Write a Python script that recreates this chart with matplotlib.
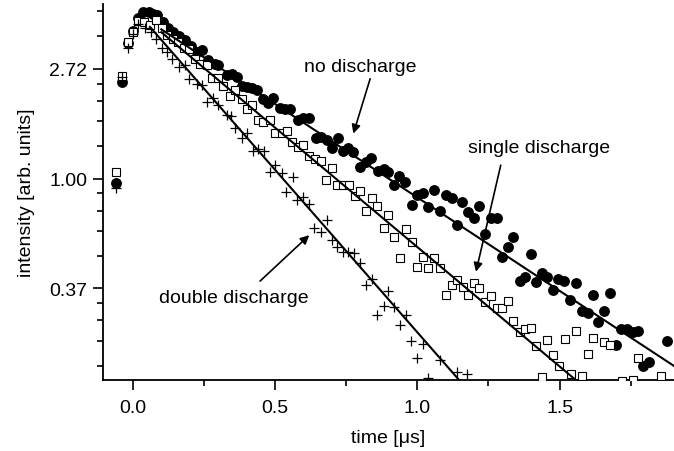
import numpy as np
import matplotlib
matplotlib.use("Agg")
import matplotlib.pyplot as plt
from matplotlib.ticker import FixedLocator, FixedFormatter, NullFormatter

plt.rcParams['font.family'] = ['Liberation Sans', 'DejaVu Sans']

# ---------------- data ----------------
t_none = [-0.059, -0.038, -0.017, 0.000, 0.019, 0.037, 0.055, 0.072, 0.086, 0.105,
          0.123, 0.140, 0.161, 0.183, 0.204, 0.225, 0.242, 0.265, 0.289, 0.300,
          0.330, 0.348, 0.365, 0.383, 0.400, 0.418, 0.435, 0.459, 0.476, 0.494,
          0.517, 0.535, 0.553, 0.582, 0.599, 0.620, 0.644, 0.662, 0.681, 0.699,
          0.720, 0.738, 0.757, 0.775, 0.799, 0.820, 0.836, 0.861, 0.881, 0.898,
          0.919, 0.937, 0.957, 0.980, 0.998, 1.021, 1.039, 1.059, 1.080, 1.100,
          1.121, 1.138, 1.158, 1.179, 1.199, 1.218, 1.238, 1.258, 1.279, 1.299,
          1.320, 1.337, 1.359, 1.379, 1.399, 1.417, 1.437, 1.457, 1.478, 1.496,
          1.517, 1.537, 1.558, 1.578, 1.598, 1.617, 1.636, 1.656, 1.677, 1.699,
          1.715, 1.736, 1.757, 1.777, 1.794, 1.815, 1.877]
I_none = [0.96, 2.41, 3.45, 3.84, 4.30, 4.55, 4.55, 4.48, 4.43, 4.15,
          3.93, 3.79, 3.65, 3.52, 3.35, 3.16, 3.21, 2.95, 2.84, 2.80,
          2.57, 2.60, 2.52, 2.32, 2.30, 2.27, 2.23, 2.07, 1.98, 2.08,
          1.90, 1.89, 1.88, 1.70, 1.73, 1.73, 1.44, 1.46, 1.42, 1.32,
          1.45, 1.28, 1.32, 1.27, 1.11, 1.16, 1.20, 1.07, 1.09, 1.06,
          0.94, 1.02, 0.97, 0.784, 0.859, 0.873, 0.773, 0.899, 0.743, 0.859,
          0.834, 0.654, 0.809, 0.735, 0.70, 0.78, 0.601, 0.70, 0.695, 0.488,
          0.537, 0.585, 0.393, 0.409, 0.503, 0.391, 0.425, 0.409, 0.362, 0.40,
          0.395, 0.331, 0.388, 0.299, 0.293, 0.346, 0.272, 0.299, 0.352, 0.220,
          0.254, 0.254, 0.247, 0.250, 0.181, 0.189, 0.227]

t_single = [-0.059, -0.038, -0.018, 0.002, 0.019, 0.039, 0.060, 0.082, 0.102, 0.119,
            0.140, 0.160, 0.178, 0.199, 0.219, 0.236, 0.260, 0.277, 0.300, 0.318,
            0.342, 0.359, 0.383, 0.400, 0.418, 0.441, 0.459, 0.482, 0.500, 0.523,
            0.541, 0.559, 0.582, 0.599, 0.620, 0.640, 0.660, 0.679, 0.699, 0.719,
            0.740, 0.760, 0.781, 0.799, 0.820, 0.840, 0.859, 0.881, 0.898, 0.919,
            0.939, 0.960, 0.980, 1.000, 1.019, 1.039, 1.059, 1.080, 1.100, 1.121,
            1.141, 1.160, 1.179, 1.199, 1.218, 1.238, 1.258, 1.279, 1.299, 1.320,
            1.337, 1.359, 1.379, 1.399, 1.417, 1.437, 1.457, 1.478, 1.499, 1.519,
            1.540, 1.558, 1.578, 1.598, 1.619, 1.657, 1.677, 1.718, 1.757, 1.777,
            1.857]
I_single = [1.06, 2.54, 3.48, 3.79, 4.18, 4.15, 4.05, 4.22, 3.94, 3.68,
            3.55, 3.46, 3.28, 3.26, 2.98, 2.84, 2.82, 2.50, 2.50, 2.32,
            2.12, 2.23, 2.07, 1.89, 1.95, 1.70, 1.68, 1.70, 1.51, 1.51,
            1.54, 1.39, 1.33, 1.36, 1.23, 1.19, 1.17, 0.99, 1.10, 0.947,
            0.941, 0.941, 0.854, 0.891, 0.743, 0.834, 0.78, 0.639, 0.716, 0.589,
            0.486, 0.63, 0.562, 0.448, 0.491, 0.444, 0.483, 0.441, 0.346, 0.379,
            0.397, 0.374, 0.346, 0.385, 0.368, 0.326, 0.344, 0.307, 0.307, 0.329,
            0.273, 0.247, 0.254, 0.257, 0.217, 0.164, 0.230, 0.201, 0.182, 0.232,
            0.168, 0.25, 0.166, 0.202, 0.235, 0.225, 0.22, 0.158, 0.16, 0.195,
            0.165]

t_double = [-0.059, -0.038, -0.016, 0.002, 0.019, 0.043, 0.062, 0.082, 0.102, 0.119,
            0.137, 0.163, 0.183, 0.199, 0.225, 0.242, 0.262, 0.283, 0.300, 0.330,
            0.344, 0.359, 0.383, 0.400, 0.424, 0.441, 0.461, 0.482, 0.500, 0.523,
            0.539, 0.562, 0.578, 0.599, 0.620, 0.638, 0.660, 0.681, 0.699, 0.719,
            0.740, 0.757, 0.778, 0.799, 0.820, 0.840, 0.859, 0.881, 0.898, 0.918,
            0.939, 0.960, 0.978, 0.998, 1.019, 1.039, 1.080, 1.141, 1.176]
I_double = [0.92, 2.53, 3.28, 3.74, 4.09, 3.93, 3.80, 3.55, 3.28, 3.16,
            2.98, 2.76, 2.80, 2.47, 2.37, 2.35, 2.01, 2.08, 1.96, 1.78,
            1.77, 1.58, 1.45, 1.51, 1.28, 1.31, 1.29, 1.06, 1.13, 1.05,
            0.886, 1.015, 0.821, 0.847, 0.79, 0.639, 0.612, 0.684, 0.571, 0.537,
            0.514, 0.51, 0.506, 0.462, 0.379, 0.40, 0.289, 0.314, 0.359, 0.311,
            0.264, 0.289, 0.228, 0.195, 0.221, 0.162, 0.192, 0.171, 0.168]

# exponential fits: I = A * exp(-t / tau), drawn between t_start and t_end
fit_names = ["no discharge", "single discharge", "double discharge"]
fit_A = [4.61, 4.71, 4.75]
fit_tau = [0.588, 0.460, 0.338]
fit_t_start = [0.10, 0.10, 0.06]
fit_t_end = [1.92, 1.57, 1.16]

xtick_vals = [0.0, 0.5, 1.0, 1.5]
xtick_labels = ["0.0", "0.5", "1.0", "1.5"]
ytick_labels = ["0.37", "1.00", "2.72"]

# ---------------- figure ----------------
fig = plt.figure(figsize=(6.74, 4.52), dpi=100)
ax = fig.add_axes([0.1528, 0.156, 1.0 - 0.1528, 0.989 - 0.156])
ax.set_yscale('log')
ax.set_xlim(-0.105, 1.902)
ax.set_ylim(0.159, 4.9)

ax.plot(t_none, I_none, linestyle='none', marker='o', ms=6.8, mfc='black',
        mec='black', zorder=3)
ax.plot(t_single, I_single, linestyle='none', marker='s', ms=6.0, mfc='white',
        mec='black', mew=0.8, zorder=4)
ax.plot(t_double, I_double, linestyle='none', marker='+', ms=7, mec='black',
        mew=0.9, zorder=5)

for A, tau, t0, t1 in zip(fit_A, fit_tau, fit_t_start, fit_t_end):
    tt = np.linspace(t0, t1, 200)
    ax.plot(tt, A * np.exp(-tt / tau), color='black', lw=1.5, zorder=6)

# ticks
e = np.e
ymaj = [e ** -1, e ** 0, e ** 1]
ymin = []
for k in (-2, -1, 0, 1):
    lo, hi = e ** k, e ** (k + 1)
    for j in range(1, 5):
        ymin.append(lo + j * (hi - lo) / 5)
ax.yaxis.set_major_locator(FixedLocator(ymaj))
ax.yaxis.set_major_formatter(FixedFormatter(ytick_labels))
ax.yaxis.set_minor_locator(FixedLocator(ymin))
ax.yaxis.set_minor_formatter(NullFormatter())
ax.xaxis.set_major_locator(FixedLocator(xtick_vals))
ax.xaxis.set_major_formatter(FixedFormatter(xtick_labels))
ax.xaxis.set_minor_locator(FixedLocator([0.25, 0.75, 1.25, 1.75]))

ax.tick_params(which='major', direction='out', length=7.5, width=1.2,
               labelsize=14, colors='black')
ax.tick_params(which='minor', direction='out', length=4, width=1.2)
ax.tick_params(axis='y', which='major', pad=4)
ax.tick_params(axis='x', which='major', pad=6)

for s in ('top', 'right'):
    ax.spines[s].set_visible(False)
for s in ('left', 'bottom'):
    ax.spines[s].set_linewidth(1.3)

ax.set_xlabel("time [μs]", fontsize=14, labelpad=9)
ax.set_ylabel("intensity [arb. units]", fontsize=14, labelpad=10)

arrow = dict(arrowstyle='-|>', color='black', lw=1.2, mutation_scale=13,
             shrinkA=0, shrinkB=0)
ax.annotate("", xy=(0.775, 1.505), xytext=(0.834, 2.48), arrowprops=arrow)
ax.annotate("", xy=(1.206, 0.428), xytext=(1.293, 1.129), arrowprops=arrow)
ax.annotate("", xy=(0.620, 0.597), xytext=(0.447, 0.393), arrowprops=arrow)
ax.text(0.799, 2.77, fit_names[0], fontsize=14, ha='center', va='center')
ax.text(1.427, 1.325, fit_names[1], fontsize=14, ha='center', va='center')
ax.text(0.355, 0.339, fit_names[2], fontsize=14, ha='center', va='center')

fig.savefig("out.png", dpi=100)
